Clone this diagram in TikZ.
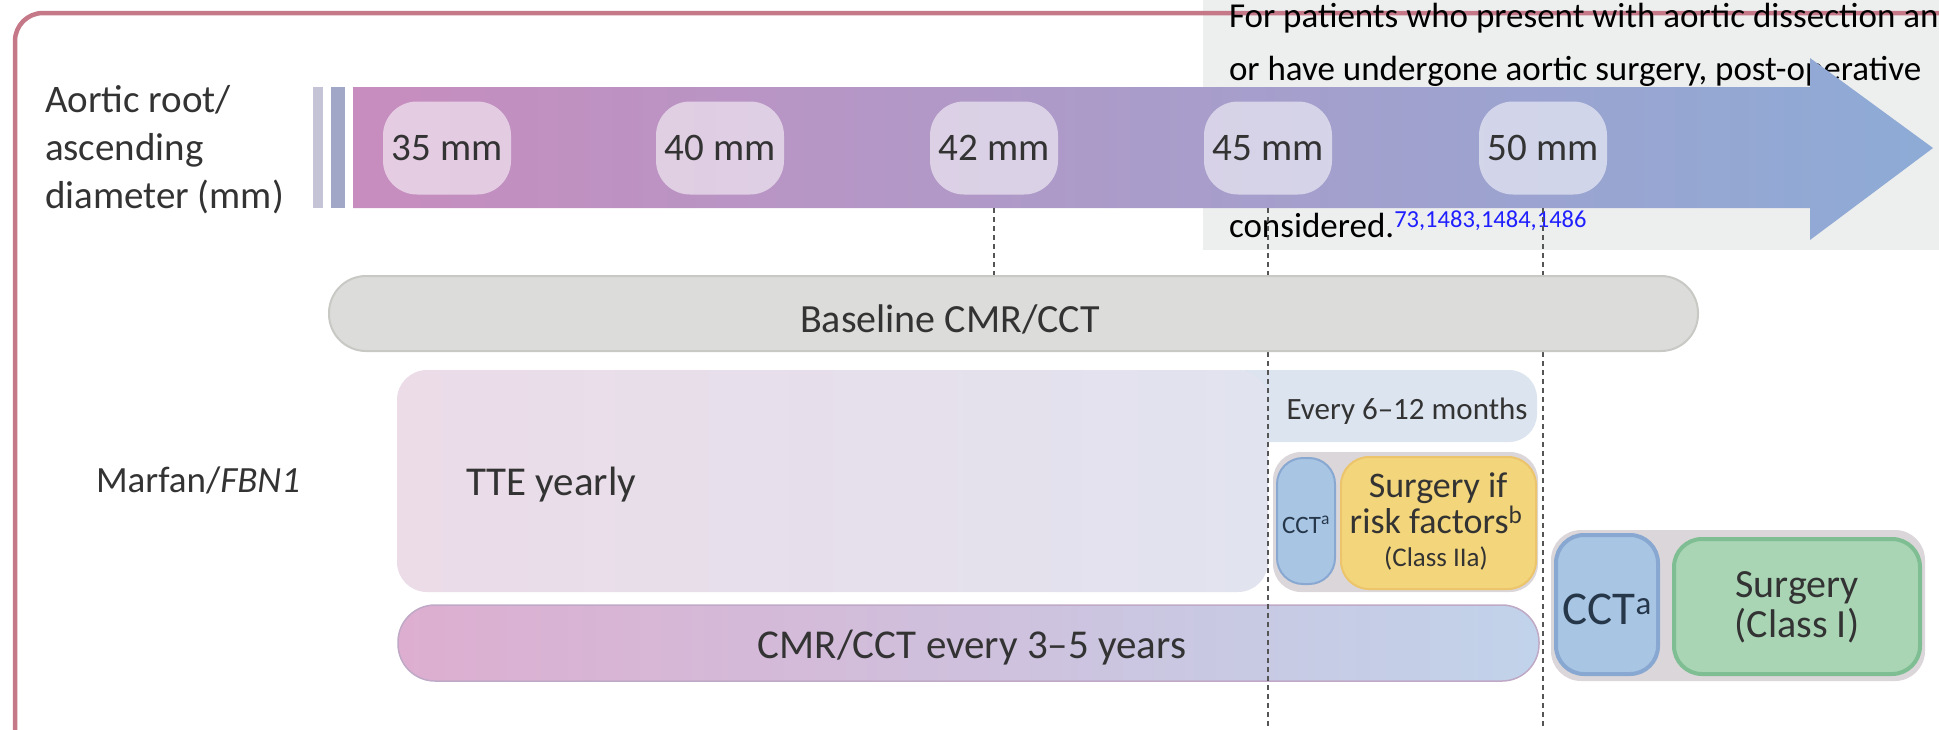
\documentclass[tikz,border=0pt]{standalone}
\usepackage{fontspec}
\setmainfont{Carlito}

\definecolor{frameC}{HTML}{C47888}
\definecolor{noteBg}{HTML}{EDEEEE}
\definecolor{refBlue}{HTML}{1F1FFF}
\definecolor{bandL}{HTML}{C78DBE}
\definecolor{bandM}{HTML}{ADA1C7}
\definecolor{bandR}{HTML}{8DABD6}
\definecolor{barA}{HTML}{C4C4D6}
\definecolor{barB}{HTML}{A1A7C7}
\definecolor{baseFill}{HTML}{DCDDDA}
\definecolor{baseLine}{HTML}{C8C9C5}
\definecolor{tteL}{HTML}{EBDCE8}
\definecolor{tteR}{HTML}{E1E3EF}
\definecolor{everyC}{HTML}{DCE4EF}
\definecolor{groupBg}{HTML}{DBD6D9}
\definecolor{cctFill}{HTML}{A8C5E4}
\definecolor{cctLine}{HTML}{88A8D2}
\definecolor{cctInk}{HTML}{26374A}
\definecolor{ylwFill}{HTML}{F3D67B}
\definecolor{ylwLine}{HTML}{ECC46C}
\definecolor{grnFill}{HTML}{A9D5B5}
\definecolor{grnLine}{HTML}{7FBE92}
\definecolor{cmrL}{HTML}{DDAED0}
\definecolor{cmrM}{HTML}{CEBCDB}
\definecolor{cmrR}{HTML}{C1D3EA}
\definecolor{cmrEdge}{HTML}{BFA9C6}
\definecolor{ink}{HTML}{333333}
\definecolor{guide}{HTML}{555555}

\begin{document}
\begin{tikzpicture}[x=1pt,y=-1pt,
  txt/.style={inner sep=0pt, outer sep=0pt, text=ink},
  notetxt/.style={inner sep=0pt, outer sep=0pt, text=black, font=\fontsize{35}{42}\selectfont},
  box/.style={rectangle, inner sep=0pt, outer sep=0pt},
  pill/.style={box, minimum width=128pt, minimum height=93pt, rounded corners=34pt,
    fill=white, fill opacity=0.55, text opacity=1, text=ink, font=\fontsize{39}{47}\selectfont},
  guideline/.style={draw=guide, line width=2.2pt, dash pattern=on 5pt off 4pt},
  frameline/.style={draw=frameC, line width=4.5pt, rounded corners=28pt},
  fbig/.style={font=\fontsize{40}{48}\selectfont},
  flabel/.style={font=\fontsize{39}{48}\selectfont}
]
\useasboundingbox (0,0) rectangle (1939,729);
\clip (0,0) rectangle (1939,729);

% note panel in the top right corner
\node[box, fill=noteBg, minimum width=742pt, minimum height=256pt, anchor=north west] (notebox) at (1203,-6) {};

% outer frame
\draw[frameline] (15,745) -- (15,13) -- (1960,13);

% note text
\node[notetxt, anchor=base west] (note1) at (1229,27) {For patients who present with aortic dissection and};
\node[notetxt, anchor=base west] (note2) at (1229,80) {or have undergone aortic surgery, post-operative};
\node[notetxt, anchor=base west] (note3) at (1229,237) {considered.\textsuperscript{\color{refBlue}73,1483,1484,1486}};

% diameter scale arrow
\shade[left color=bandL, middle color=bandM, right color=bandR]
  (353,87) -- (1810,87) -- (1810,58) -- (1933,148) -- (1810,240) -- (1810,208) -- (353,208) -- cycle;
\node[box, fill=barA, minimum width=10pt, minimum height=121pt] (barone) at (318,147.5) {};
\node[box, fill=barB, minimum width=14pt, minimum height=121pt] (bartwo) at (338,147.5) {};

% axis label
\node[txt, flabel, anchor=base west] (axisa) at (45,112) {Aortic root/};
\node[txt, flabel, anchor=base west] (axisb) at (45,160) {ascending};
\node[txt, flabel, anchor=base west] (axisc) at (45,208) {diameter (mm)};

% diameter marks
\node[pill] (p35) at (447,148) {35 mm};
\node[pill] (p40) at (720,148) {40 mm};
\node[pill] (p42) at (994,148) {42 mm};
\node[pill] (p45) at (1268,148) {45 mm};
\node[pill] (p50) at (1543,148) {50 mm};

% row label
\node[txt, font=\fontsize{37}{44}\selectfont, anchor=base west] (marfan) at (96,492) {Marfan/\textit{FBN1}};

% follow-up boxes
\node[box, fill=everyC, rounded corners=28pt, minimum width=317pt, minimum height=72pt, anchor=north west] (everybox) at (1220,370) {};
\node[box, left color=tteL, right color=tteR, rounded corners=30pt, minimum width=871pt, minimum height=222pt, anchor=north west] (ttebox) at (397,370) {};
\node[txt, font=\fontsize{41}{48}\selectfont, anchor=base west] (ttetxt) at (466,495) {TTE yearly};
\node[txt, font=\fontsize{31}{36}\selectfont, anchor=base] (everytxt) at (1407,419) {Every 6--12 months};

% surgery if risk factors
\node[box, fill=groupBg, rounded corners=28pt, minimum width=265pt, minimum height=140pt, anchor=north west] (grpone) at (1273,452) {};
\node[box, fill=cctFill, draw=cctLine, line width=2pt, rounded corners=26pt, minimum width=58pt, minimum height=126pt, anchor=north west] (cctone) at (1277,458) {};
\node[box, fill=ylwFill, draw=ylwLine, line width=2pt, rounded corners=28pt, minimum width=195pt, minimum height=132pt, anchor=north west] (ylw) at (1341,457) {};
\node[txt, font=\fontsize{25}{30}\selectfont, text=cctInk] (cctonetxt) at (1306,525) {CCT\textsuperscript{a}};
\node[txt, font=\fontsize{36}{40}\selectfont, anchor=base] (ylwa) at (1438,497) {Surgery if};
\node[txt, font=\fontsize{36}{40}\selectfont, anchor=base] (ylwb) at (1436,533) {risk factors\textsuperscript{b}};
\node[txt, font=\fontsize{27}{32}\selectfont, anchor=base] (ylwc) at (1436,566) {(Class IIa)};

% surgery class I
\node[box, fill=groupBg, rounded corners=30pt, minimum width=374pt, minimum height=151pt, anchor=north west] (grptwo) at (1551,530) {};
\node[box, fill=cctFill, draw=cctLine, line width=4pt, rounded corners=28pt, minimum width=102pt, minimum height=139pt, anchor=north west] (ccttwo) at (1556,535) {};
\node[box, fill=grnFill, draw=grnLine, line width=4pt, rounded corners=28pt, minimum width=246pt, minimum height=135pt, anchor=north west] (grn) at (1674,539) {};
\node[txt, font=\fontsize{47}{54}\selectfont, anchor=base, text=cctInk] (ccttwotxt) at (1607,624) {CCT\textsuperscript{a}};
\node[txt, fbig, anchor=base] (grna) at (1797,597) {Surgery};
\node[txt, fbig, anchor=base] (grnb) at (1797,637) {(Class I)};

% imaging interval bar
\node[box, left color=cmrL, middle color=cmrM, right color=cmrR, draw=cmrEdge, line width=1.5pt, rounded corners=37pt, minimum width=1141pt, minimum height=76pt, anchor=north west] (cmrbar) at (398,605) {};
\node[txt, font=\fontsize{41}{48}\selectfont, anchor=base] (cmrtxt) at (972,658) {CMR/CCT every 3--5 years};

% threshold guides
\coordinate (g42a) at (994,208);
\coordinate (g42b) at (994,276);
\coordinate (g45a) at (1268,208);
\coordinate (g45b) at (1268,735);
\coordinate (g50a) at (1543,208);
\coordinate (g50b) at (1543,735);
\draw[guideline] (g42a) -- (g42b);
\draw[guideline] (g45a) -- (g45b);
\draw[guideline] (g50a) -- (g50b);

% baseline imaging bar
\node[box, fill=baseFill, draw=baseLine, line width=2pt, rounded corners=37pt, minimum width=1369pt, minimum height=75pt, anchor=north west] (basebar) at (329,276) {};
\node[txt, fbig, anchor=base] (basetxt) at (950,332) {Baseline CMR/CCT};
\end{tikzpicture}
\end{document}
